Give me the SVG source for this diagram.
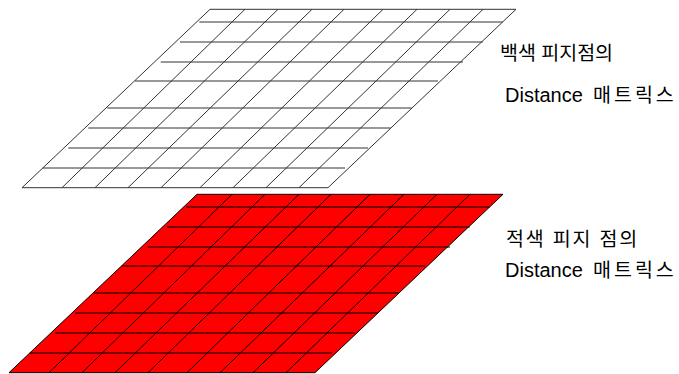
<svg xmlns="http://www.w3.org/2000/svg" width="679" height="374" viewBox="0 0 679 374">
  <style>
    .grid-white { stroke: #333333; stroke-width: 1; fill: none; }
    .grid-white .face { fill: #ffffff; }
    .grid-red { stroke: #000000; stroke-width: 1; fill: none; }
    .grid-red .face { fill: #ff0000; }
    .label { font-family: "Liberation Sans", "Noto Sans CJK KR", sans-serif; font-size: 20px; fill: #000000; }
    .ko { font-size: 19.5px; }
    .ko-wide { font-size: 19.5px; letter-spacing: 3px; }
    .ko-mid { letter-spacing: 1.8px; }
  </style>
  <defs>
    <g id="gridLines">
      <line x1="199.3" y1="22" x2="502.7" y2="22"/>
      <line x1="180" y1="42" x2="482.7" y2="42"/>
      <line x1="160.7" y1="62" x2="463" y2="62"/>
      <line x1="135" y1="81" x2="438" y2="81"/>
      <line x1="107.3" y1="108" x2="411.7" y2="108"/>
      <line x1="88.3" y1="128" x2="390.7" y2="128"/>
      <line x1="68.3" y1="148" x2="368" y2="148"/>
      <line x1="42.7" y1="168" x2="345" y2="168"/>
      <line x1="245" y1="9.3" x2="62" y2="187.7"/>
      <line x1="278" y1="9.3" x2="95" y2="187.7"/>
      <line x1="312" y1="9.3" x2="128" y2="187.7"/>
      <line x1="344" y1="9.3" x2="161" y2="187.7"/>
      <line x1="383" y1="9.3" x2="200" y2="187.7"/>
      <line x1="417" y1="9.3" x2="233" y2="187.7"/>
      <line x1="450" y1="9.3" x2="266" y2="187.7"/>
      <line x1="483" y1="9.3" x2="299" y2="187.7"/>
    </g>
  </defs>
  <g id="white-matrix" class="grid-white">
    <polygon class="face" points="210,9.3 516,9.3 328,187.7 22,187.7"/>
    <use href="#gridLines"/>
  </g>
  <g id="red-matrix" class="grid-red" transform="translate(-13,185)">
    <polygon class="face" points="210,9.3 516,9.3 328,187.7 22,187.7"/>
    <use href="#gridLines"/>
  </g>
  <g id="white-label">
    <text class="label ko" x="500" y="60">백색 피지점의</text>
    <text class="label" x="505" y="102.3">Distance<tspan class="ko-wide" x="593">매트릭스</tspan></text>
  </g>
  <g id="red-label">
    <text class="label ko ko-mid" x="506" y="246">적색 피지 점의</text>
    <text class="label" x="505" y="276.7">Distance<tspan class="ko-wide" x="593">매트릭스</tspan></text>
  </g>
</svg>
